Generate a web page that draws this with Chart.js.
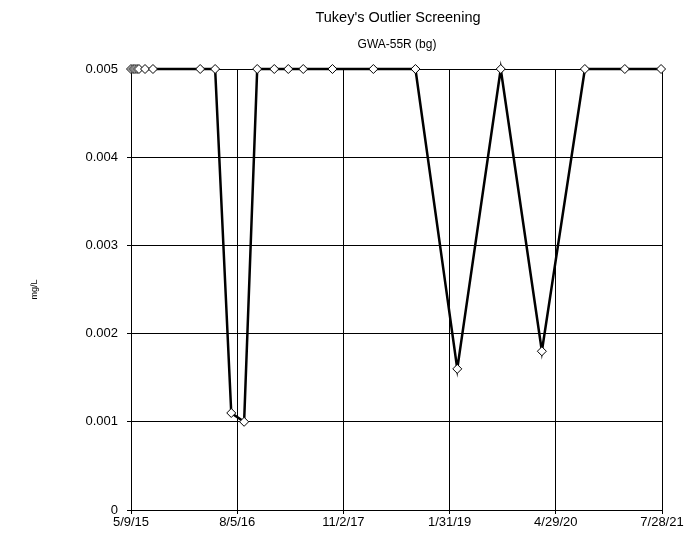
<!DOCTYPE html>
<html>
<head>
<meta charset="utf-8">
<script src="https://cdn.jsdelivr.net/npm/chart.js@4"></script>
<style>
html,body{margin:0;padding:0;background:#fff;}
#wrap{width:698px;height:544px;position:relative;}
</style>
</head>
<body>
<div id="wrap"><canvas id="c" width="698" height="544"></canvas></div>
<script>
// ---- data ----
const chartTitle = "Tukey's Outlier Screening";
const chartSubtitle = "GWA-55R (bg)";
const yAxisLabel = "mg/L";
const axisStartDate = "2015-05-09";
const axisEndDate = "2021-07-28";
const sampleDates = [
  "2015-05-09","2015-05-18","2015-05-26","2015-06-04","2015-06-12",
  "2015-07-08","2015-08-11","2016-02-29","2016-05-03","2016-07-11",
  "2016-09-04","2016-10-30","2017-01-11","2017-03-12","2017-05-15",
  "2017-09-17","2018-03-11","2018-09-07","2019-03-05","2019-09-07",
  "2020-03-01","2020-09-01","2021-02-19","2021-07-24"
];
const sampleValues = [
  0.005,0.005,0.005,0.005,0.005,
  0.005,0.005,0.005,0.005,0.0011,
  0.001,0.005,0.005,0.005,0.005,
  0.005,0.005,0.005,0.0016,0.005,
  0.0018,0.005,0.005,0.005
];
const yTicks = [0, 0.001, 0.002, 0.003, 0.004, 0.005];
const xTickCount = 5;

// ---- helpers ----
const DAY = 86400000;
function toDays(s){const p=s.split('-').map(Number);return Date.UTC(p[0],p[1]-1,p[2])/DAY;}
const d0 = toDays(axisStartDate);
const span = toDays(axisEndDate) - d0;
const step = span / xTickCount;
const xTickValues = [];
for (let i=0;i<=xTickCount;i++) xTickValues.push(i*step);
function fmtDate(v){
  const d = new Date((d0 + Math.floor(v + 1e-6)) * DAY);
  return (d.getUTCMonth()+1) + '/' + d.getUTCDate() + '/' + String(d.getUTCFullYear()).slice(2);
}
const points = sampleDates.map((s,i)=>({x: toDays(s)-d0, y: sampleValues[i]}));

const titlePlugin = {
  id:'titles',
  afterDraw(chart){
    const ctx = chart.ctx;
    ctx.save();
    ctx.fillStyle = '#000';
    ctx.textAlign = 'center';
    ctx.textBaseline = 'middle';
    ctx.font = '14.5px "Liberation Sans", Arial, sans-serif';
    ctx.fillText(chartTitle, 398, 18);
    ctx.font = '12px "Liberation Sans", Arial, sans-serif';
    ctx.fillText(chartSubtitle, 397, 45);
    ctx.restore();
  }
};

new Chart(document.getElementById('c'), {
  type: 'line',
  data: {
    datasets: [{
      data: points,
      borderColor: '#000',
      borderWidth: 2.5,
      pointStyle: 'rectRot',
      pointRadius: 4.5,
      pointBackgroundColor: '#fff',
      pointBorderColor: '#000',
      pointBorderWidth: 1,
      tension: 0,
      fill: false,
      clip: false
    }]
  },
  options: {
    responsive: false,
    animation: false,
    layout: { padding: { left: 0, right: 36, top: 69, bottom: 0 } },
    plugins: { legend: { display: false }, title: { display: false }, tooltip: { enabled: false } },
    scales: {
      x: {
        type: 'linear',
        min: 0,
        max: span,
        afterBuildTicks(scale){ scale.ticks = xTickValues.map(v=>({value:v})); },
        afterFit(scale){ scale.height = 34; },
        ticks: {
          color: '#000',
          font: { family: '"Liberation Sans", Arial, sans-serif', size: 13 },
          padding: 1,
          maxRotation: 0,
          autoSkip: false,
          callback: (v)=>fmtDate(v)
        },
        grid: { color: '#000', lineWidth: 1, tickLength: 4, drawTicks: true },
        border: { color: '#000', width: 1 }
      },
      y: {
        type: 'linear',
        min: 0,
        max: 0.005,
        afterBuildTicks(scale){ scale.ticks = yTicks.map(v=>({value:v})); },
        afterFit(scale){ scale.width = 131; },
        ticks: {
          color: '#000',
          font: { family: '"Liberation Sans", Arial, sans-serif', size: 13 },
          padding: 9,
          callback: (v)=> v === 0 ? '0' : v.toFixed(3)
        },
        grid: { color: '#000', lineWidth: 1, tickLength: 4 },
        border: { color: '#000', width: 1 },
        title: {
          display: true,
          text: yAxisLabel,
          color: '#000',
          font: { family: '"Liberation Sans", Arial, sans-serif', size: 9 },
          padding: { top: 29, bottom: 0 }
        }
      }
    }
  },
  plugins: [titlePlugin]
});
</script>
</body>
</html>
